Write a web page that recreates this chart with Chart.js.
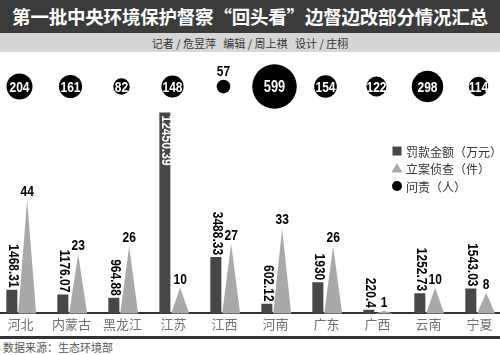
<!DOCTYPE html>
<html>
<head>
<meta charset="utf-8">
<script src="https://cdn.jsdelivr.net/npm/chart.js@4.4.1/dist/chart.umd.min.js"></script>
<style>
  html, body { margin: 0; padding: 0; width: 500px; height: 355px; overflow: hidden; background: #fff; }
  body { position: relative; font-family: "Noto Sans CJK SC", sans-serif; }
  #title { position: absolute; left: 0; top: 0; width: 500px; height: 33px; background: #3b3b3b; color: #fff;
           font-weight: bold; font-size: 18.5px; line-height: 33px; text-align: center; letter-spacing: -0.2px; white-space: nowrap; }
  #credits { position: absolute; left: 0; top: 33px; width: 500px; height: 19px; background: #d6d6d6; color: #333;
             font-size: 11px; line-height: 20px; text-align: center; white-space: pre; }
  #wrap { position: absolute; left: -6px; top: 52px; width: 510px; height: 283px; }
  #rule { position: absolute; left: 0; top: 336px; width: 500px; height: 3px; background: #333; }
  #source { position: absolute; left: 3px; top: 339px; font-size: 11px; line-height: 16px; color: #555; }
</style>
</head>
<body>
<div id="title">第一批中央环境保护督察“回头看”边督边改部分情况汇总</div>
<div id="credits">记者 / 危昱萍   编辑 / 周上祺   设计 / 庄栩</div>
<div id="wrap"><canvas id="c"></canvas></div>
<div id="rule"></div>
<div id="source">数据来源：生态环境部</div>
<script>
// ---- data ----
const categories = ['河北', '内蒙古', '黑龙江', '江苏', '江西', '河南', '广东', '广西', '云南', '宁夏'];
const fines = [1468.31, 1176.07, 964.88, 12450.39, 3488.33, 602.12, 1930, 220.4, 1252.73, 1543.03];
const cases = [44, 23, 26, 10, 27, 33, 26, 1, 10, 8];
const accountable = [204, 161, 82, 148, 57, 599, 154, 122, 298, 114];
const seriesNames = ['罚款金额（万元）', '立案侦查（件）', '问责（人）'];

// ---- styles ----
const BAR_COLOR = '#474747';
const TRI_COLOR = '#a9a9a9';
const DOT_COLOR = '#000000';
const NUM_FONT = '"Liberation Sans", Arial, sans-serif';
const NARROW = 0.8;        // horizontal squeeze to imitate a condensed face
const CJK_FONT = '"Noto Sans CJK SC", sans-serif';
const PAGE_OFFSET_X = 6;   // canvas is shifted 6px left of the page
const BUBBLE_ROW = 0.868;  // vertical position of the bubble row on its own 0..1 axis
const BUBBLE_K = 0.91;     // bubble radius scale (area proportional to value)
const TRI_HALF = 9;

// bubbles must not shrink the plot area
Chart.BubbleController.prototype.getMaxOverflow = function () { return 0; };

function narrowText(ctx, txt, x, y) {
  ctx.save();
  ctx.translate(x, y);
  ctx.scale(NARROW, 1);
  ctx.fillText(txt, 0, 0);
  ctx.restore();
}

const labelPlugin = {
  id: 'labels',
  afterDatasetsDraw(chart) {
    const ctx = chart.ctx;
    // triangles
    const tri = chart.getDatasetMeta(1);
    ctx.save();
    ctx.fillStyle = TRI_COLOR;
    tri.data.forEach(el => {
      const p = el.getProps(['x', 'y', 'base'], true);
      ctx.beginPath();
      ctx.moveTo(p.x - TRI_HALF, p.base);
      ctx.lineTo(p.x, p.y);
      ctx.lineTo(p.x + TRI_HALF, p.base);
      ctx.closePath();
      ctx.fill();
    });
    // triangle labels
    ctx.fillStyle = '#000';
    ctx.font = 'bold 15px ' + NUM_FONT;
    ctx.textAlign = 'center';
    ctx.textBaseline = 'alphabetic';
    tri.data.forEach((el, i) => {
      const p = el.getProps(['x', 'y'], true);
      narrowText(ctx, String(cases[i]), p.x, p.y - 4);
    });
    // bar labels (rotated)
    const bars = chart.getDatasetMeta(0);
    ctx.font = 'bold 15px ' + NUM_FONT;
    ctx.textBaseline = 'middle';
    bars.data.forEach((el, i) => {
      const p = el.getProps(['x', 'y'], true);
      const txt = String(fines[i]);
      const w = ctx.measureText(txt).width * NARROW;
      ctx.save();
      if (p.y - 3 - w < 60) {
        ctx.translate(p.x + 1, p.y + 3);
        ctx.rotate(Math.PI / 2);
        ctx.textAlign = 'left';
        ctx.fillStyle = '#fff';
      } else {
        ctx.translate(p.x + 1, p.y - 2);
        ctx.rotate(Math.PI / 2);
        ctx.textAlign = 'right';
        ctx.fillStyle = '#000';
      }
      narrowText(ctx, txt, 0, 0);
      ctx.restore();
    });
    // bubble labels
    const bub = chart.getDatasetMeta(2);
    ctx.textAlign = 'center';
    bub.data.forEach((el, i) => {
      const p = el.getProps(['x', 'y'], true);
      const r = el.options.radius;
      const txt = String(accountable[i]);
      if (r < 8) {
        ctx.fillStyle = '#000';
        ctx.font = 'bold 15px ' + NUM_FONT;
        ctx.textBaseline = 'alphabetic';
        narrowText(ctx, txt, p.x, p.y - r - 4);
      } else {
        ctx.fillStyle = '#fff';
        ctx.font = 'bold ' + (r > 18 ? 16 : 15) + 'px ' + NUM_FONT;
        ctx.textBaseline = 'middle';
        narrowText(ctx, txt, p.x, p.y + 1);
      }
    });
    // legend
    const lx = 397 + PAGE_OFFSET_X, ly = [99, 116, 134];
    ctx.fillStyle = BAR_COLOR;
    ctx.fillRect(lx - 4.5, ly[0] - 4.5, 9, 9);
    ctx.fillStyle = TRI_COLOR;
    ctx.beginPath();
    ctx.moveTo(lx - 5.5, ly[1] + 4.5);
    ctx.lineTo(lx, ly[1] - 5);
    ctx.lineTo(lx + 5.5, ly[1] + 4.5);
    ctx.closePath();
    ctx.fill();
    ctx.fillStyle = DOT_COLOR;
    ctx.beginPath();
    ctx.arc(lx, ly[2], 5, 0, Math.PI * 2);
    ctx.fill();
    ctx.fillStyle = '#333';
    ctx.font = '12px ' + CJK_FONT;
    ctx.textAlign = 'left';
    ctx.textBaseline = 'middle';
    seriesNames.forEach((s, i) => ctx.fillText(s, lx + 9, ly[i] + 1));
    ctx.restore();
  }
};

new Chart(document.getElementById('c'), {
  type: 'bar',
  data: {
    labels: categories,
    datasets: [
      { label: seriesNames[0], data: fines, backgroundColor: BAR_COLOR, yAxisID: 'y',
        categoryPercentage: 0.6, barPercentage: 0.72 },
      { label: seriesNames[1], data: cases, backgroundColor: 'rgba(0,0,0,0)', yAxisID: 'y2',
        categoryPercentage: 0.6, barPercentage: 0.72 },
      { type: 'bubble', label: seriesNames[2], yAxisID: 'yb', backgroundColor: DOT_COLOR, borderWidth: 0,
        data: accountable.map((v, i) => ({ x: i, y: BUBBLE_ROW, r: BUBBLE_K * Math.sqrt(v) })) }
    ]
  },
  options: {
    responsive: true,
    maintainAspectRatio: false,
    animation: false,
    events: [],
    layout: { padding: 0 },
    plugins: { legend: { display: false }, tooltip: { enabled: false } },
    scales: {
      x: {
        type: 'category',
        offset: true,
        grid: { display: false, drawTicks: false },
        border: { display: true, color: '#333', width: 2 },
        ticks: { color: '#707070', font: { family: CJK_FONT, size: 13 }, padding: 3, labelOffset: 1, maxRotation: 0, autoSkip: false }
      },
      y: { display: false, min: 0, max: 16200 },
      y2: { display: false, min: 0, max: 101.5 },
      yb: { display: false, min: 0, max: 1 }
    }
  },
  plugins: [labelPlugin]
});
</script>
</body>
</html>
